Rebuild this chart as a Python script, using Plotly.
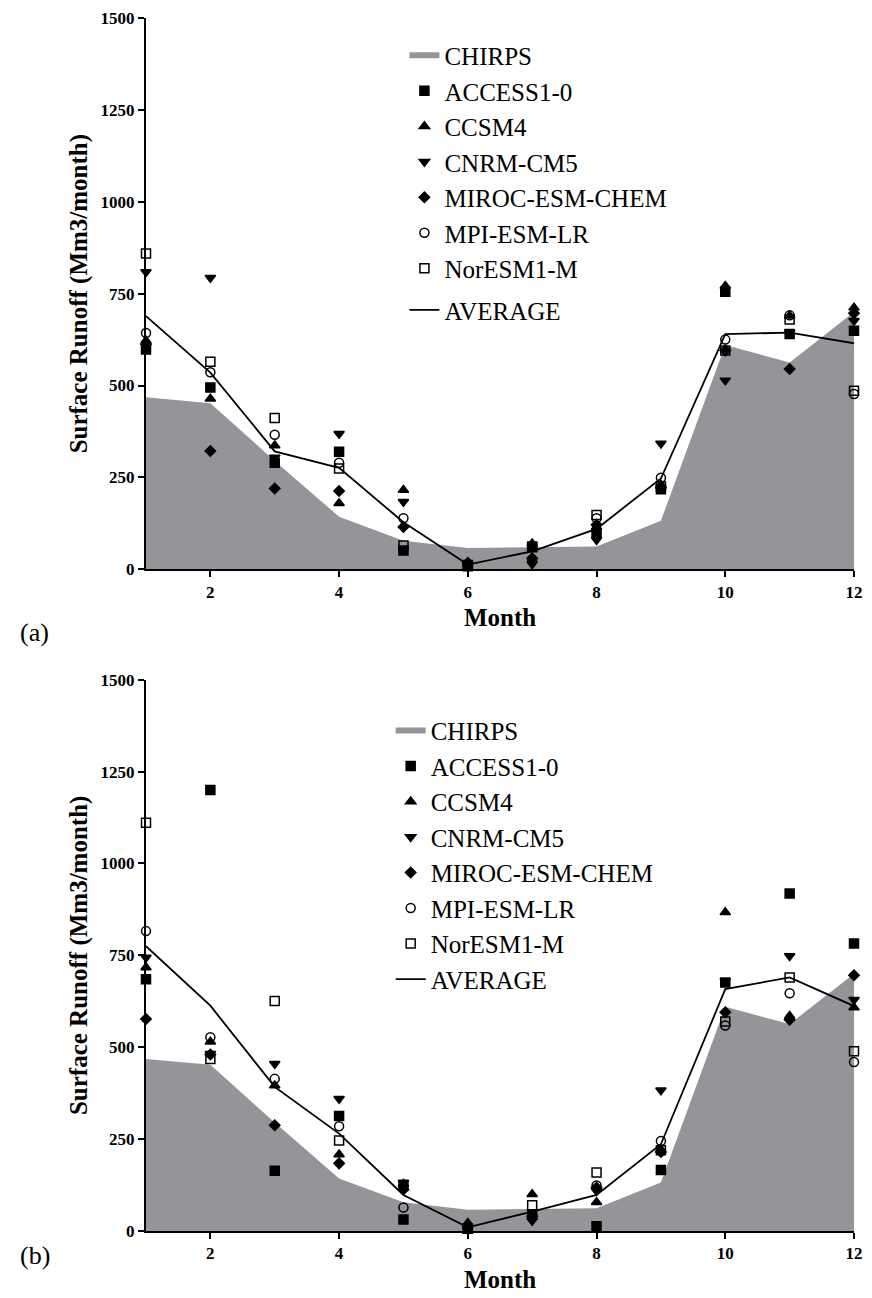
import plotly.graph_objects as go

months = list(range(1, 13))
xtick_vals = [2, 4, 6, 8, 10, 12]
ytick_vals = [0, 250, 500, 750, 1000, 1250, 1500]

chirps = [468, 452, 295, 143, 78, 58, 60, 62, 132, 610, 563, 700]

# Panel (a)
access_a = [598, 495, 290, 320, 51, 8, 62, 98, 218, 755, 640, 649]
ccsm4_a = [622, 464, 337, 180, 216, 18, 70, 115, 230, 771, 690, 712]
cnrm_a = [809, 793, 304, 369, 184, 12, 14, 80, 342, 514, 645, 676]
miroc_a = [612, 322, 220, 213, 115, 18, 30, 121, 222, 595, 545, 697]
mpi_a = [643, 536, 366, 290, 139, 14, 26, 139, 249, 625, 691, 477]
noresm_a = [859, 565, 412, 274, 65, 12, 60, 148, 225, 595, 680, 486]
avg_a = [689, 535, 321, 276, 128, 13, 49, 110, 247, 640, 644, 615]

# Panel (b)
access_b = [685, 1200, 164, 313, 31, 6, 44, 13, 166, 676, 918, 782]
ccsm4_b = [717, 515, 396, 208, 128, 22, 100, 78, 222, 867, 585, 608]
cnrm_b = [744, 482, 455, 360, 132, 8, 28, 109, 383, 680, 748, 629]
miroc_b = [577, 480, 288, 184, 113, 12, 40, 118, 215, 595, 575, 696]
mpi_b = [816, 527, 414, 285, 64, 8, 40, 124, 245, 559, 647, 460]
noresm_b = [1111, 468, 626, 246, 124, 6, 70, 159, 220, 570, 690, 489]
avg_b = [775, 613, 392, 265, 98, 10, 53, 98, 236, 658, 690, 612]

model_names = ["ACCESS1-0", "CCSM4", "CNRM-CM5", "MIROC-ESM-CHEM", "MPI-ESM-LR", "NorESM1-M"]
symbols = ["square", "triangle-up", "triangle-down", "diamond", "circle-open", "square-open"]
sizes = [9, 9, 9, 8, 9, 9]

SERIF = "Liberation Serif"
GREY = "#939598"

fig = go.Figure()


def add_panel(xa, ya, legend, series, avg, tag):
    fig.add_trace(go.Scatter(x=months, y=chirps, name="CHIRPS", mode="none", fill="tozeroy",
                             fillcolor=GREY, xaxis=xa, yaxis=ya, legend=legend,
                             legendgroup=tag + "main"))
    for name, sym, sz, vals in zip(model_names, symbols, sizes, series):
        fig.add_trace(go.Scatter(x=months, y=vals, name=name, mode="markers",
                                 marker=dict(symbol=sym, size=sz, color="black",
                                             line=dict(color="black", width=1.5)),
                                 cliponaxis=False, xaxis=xa, yaxis=ya, legend=legend,
                                 legendgroup=tag + "main"))
    fig.add_trace(go.Scatter(x=months, y=avg, name="AVERAGE", mode="lines",
                             line=dict(color="black", width=1.8), cliponaxis=False,
                             xaxis=xa, yaxis=ya, legend=legend, legendgroup=tag + "avg"))


add_panel("x", "y", "legend", [access_a, ccsm4_a, cnrm_a, miroc_a, mpi_a, noresm_a], avg_a, "a")
add_panel("x2", "y2", "legend2", [access_b, ccsm4_b, cnrm_b, miroc_b, mpi_b, noresm_b], avg_b, "b")

tickfont = dict(family=SERIF, size=17, color="black", weight="bold")
titlefont = dict(family=SERIF, size=25, color="black", weight="bold")

xcommon = dict(range=[1, 12], tickvals=xtick_vals, showline=True, linecolor="black", linewidth=2,
               ticks="outside", ticklen=6, tickwidth=2, tickcolor="black", showgrid=False,
               zeroline=False, tickfont=tickfont,
               title=dict(text="Month", font=titlefont, standoff=8))
ycommon = dict(range=[0, 1500], tickvals=ytick_vals, showline=True, linecolor="black", linewidth=2,
               ticks="outside", ticklen=6, tickwidth=2, tickcolor="black", showgrid=False,
               zeroline=False, tickfont=tickfont,
               title=dict(text="Surface Runoff (Mm3/month)", font=titlefont, standoff=6))

legfont = dict(family=SERIF, size=25, color="black")

fig.update_layout(
    width=872, height=1298,
    margin=dict(l=146, r=9, t=14, b=65),
    plot_bgcolor="white", paper_bgcolor="white",
    xaxis=dict(domain=[0, 1], anchor="y", **xcommon),
    yaxis=dict(domain=[0.5455, 1], anchor="x", **ycommon),
    xaxis2=dict(domain=[0, 1], anchor="y2", **xcommon),
    yaxis2=dict(domain=[0, 0.4545], anchor="x2", **ycommon),
    legend=dict(x=0.365, y=0.988, xanchor="left", yanchor="top", font=legfont,
                bgcolor="rgba(0,0,0,0)", itemwidth=30, tracegroupgap=6,
                traceorder="grouped"),
    legend2=dict(x=0.3456, y=0.4313, xanchor="left", yanchor="top", font=legfont,
                 bgcolor="rgba(0,0,0,0)", itemwidth=30, tracegroupgap=0,
                 traceorder="grouped"),
    annotations=[
        dict(text="(a)", x=-0.181, y=0.493, xref="paper", yref="paper", showarrow=False,
             font=dict(family=SERIF, size=26, color="black")),
        dict(text="(b)", x=-0.181, y=-0.034, xref="paper", yref="paper", showarrow=False,
             font=dict(family=SERIF, size=26, color="black")),
    ],
)

fig.write_html("out.html")
